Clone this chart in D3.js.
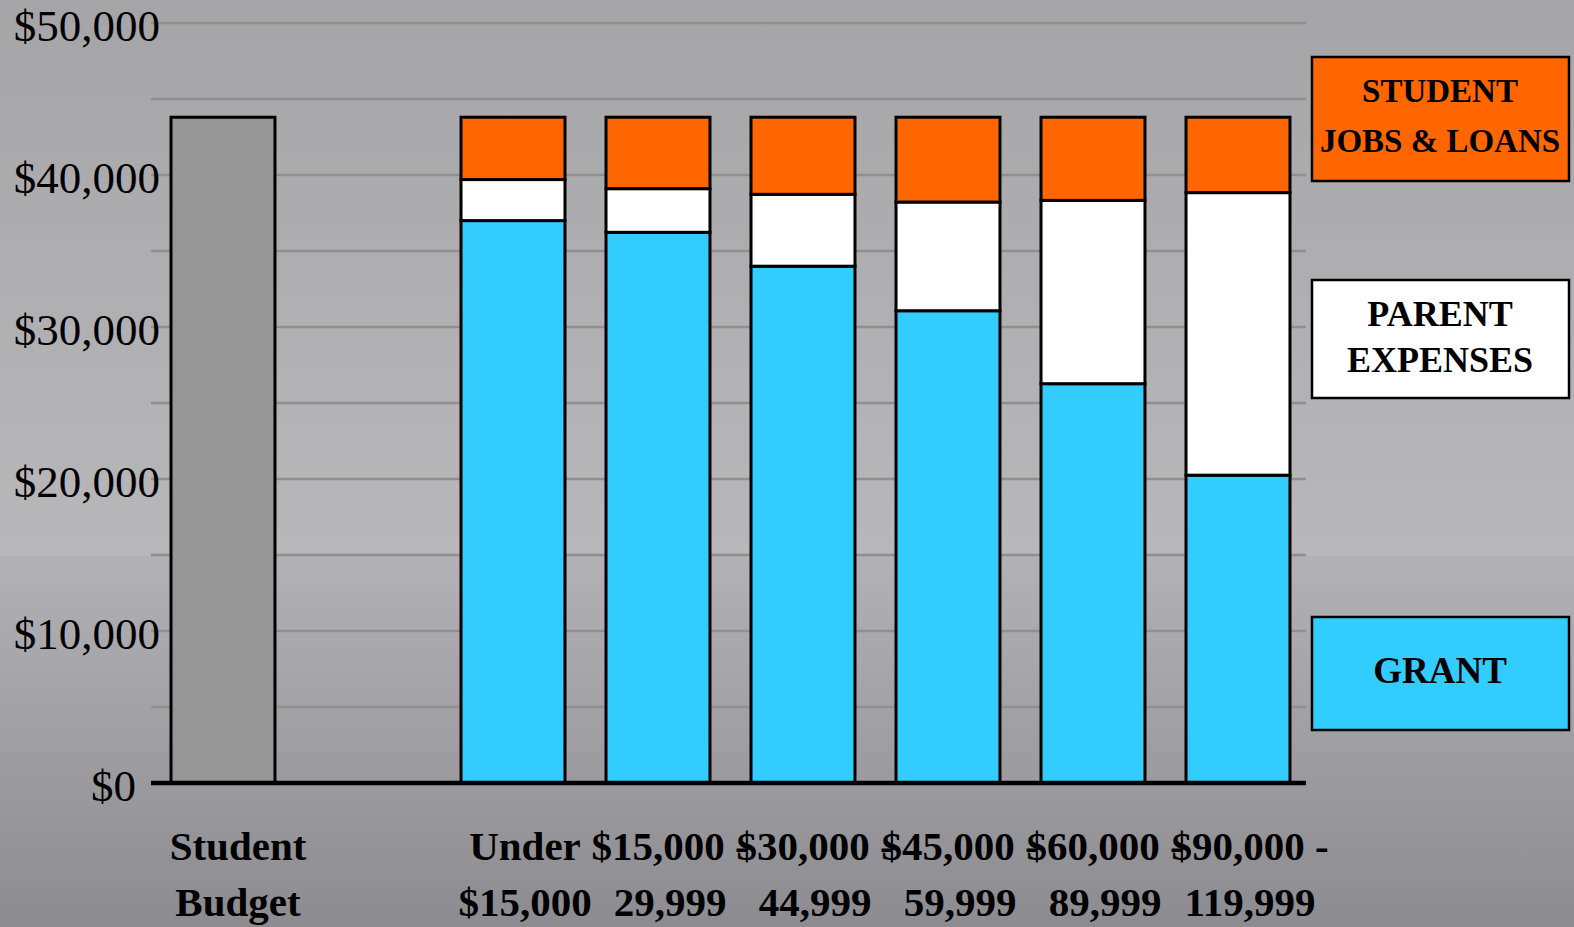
<!DOCTYPE html>
<html><head><meta charset="utf-8">
<script src="https://cdn.jsdelivr.net/npm/d3@7"></script>
<style>html,body{margin:0;padding:0;overflow:hidden;background:#a8a8aa}</style>
</head><body>
<svg id="chart" width="1574" height="927"></svg>
<script>
const categories = ["Student Budget", "", "Under $15,000", "$15,000 - 29,999", "$30,000 - 44,999", "$45,000 - 59,999", "$60,000 - 89,999", "$90,000 - 119,999"];
const labelLines = [["Student","Budget"],[],["Under","$15,000"],["$15,000 -","29,999"],["$30,000 -","44,999"],["$45,000 -","59,999"],["$60,000 -","89,999"],["$90,000 -","119,999"]];
const studentBudget = 43800;
const incomeCategories = categories.slice(2);
const grant = [37000, 36230, 34000, 31070, 26270, 20250];
const parentExpenses = [2700, 2870, 4730, 7150, 12060, 18590];
const jobsLoans = [4100, 4700, 5070, 5580, 5470, 4960];
const seriesNames = ["GRANT", "PARENT EXPENSES", "STUDENT JOBS & LOANS"];
const seriesColors = ["#33ccff", "#ffffff", "#ff6600"];
const yTicks = [0, 10000, 20000, 30000, 40000, 50000];
const gridTicks = [5000, 10000, 15000, 20000, 25000, 30000, 35000, 40000, 45000, 50000];

const svg = d3.select("#chart");
const W = 1574, H = 927;

// background
const defs = svg.append("defs");
const g1 = defs.append("linearGradient").attr("id","bgTop").attr("x1",0).attr("y1",0).attr("x2",0).attr("y2",1);
g1.append("stop").attr("offset","0").attr("stop-color","#a5a5a7");
g1.append("stop").attr("offset","1").attr("stop-color","#b8b8bb");
const g2 = defs.append("linearGradient").attr("id","bgBot").attr("x1",0).attr("y1",0).attr("x2",0).attr("y2",1);
g2.append("stop").attr("offset","0").attr("stop-color","#b2b2b6");
g2.append("stop").attr("offset","1").attr("stop-color","#8c8c90");
svg.append("rect").attr("x",0).attr("y",0).attr("width",W).attr("height",556).attr("fill","url(#bgTop)");
svg.append("rect").attr("x",0).attr("y",556).attr("width",W).attr("height",H-556).attr("fill","url(#bgBot)");

const y = d3.scaleLinear().domain([0, 50000]).range([783, 23]);
const x = d3.scaleBand().domain(categories).range([150.5, 1310.5]).paddingInner(0.283).paddingOuter(0.1415);

// gridlines
svg.append("g").selectAll("line").data(gridTicks).join("line")
  .attr("x1",151).attr("x2",1306)
  .attr("y1",d=>y(d)).attr("y2",d=>y(d))
  .attr("stroke","#8f8f90").attr("stroke-width",2.5);

// y labels
const yAxis = d3.axisLeft(y).tickValues(yTicks).tickSize(0).tickPadding(0)
  .tickFormat(d => "$" + d3.format(",")(d));
const ya = svg.append("g").attr("transform","translate(160,0)").call(yAxis);
ya.select(".domain").remove();
ya.selectAll("text").attr("font-family","'Liberation Serif', serif").attr("font-size",45)
  .attr("fill","#000").attr("dy","0.38em")
  .attr("x", d => d === 0 ? -24 : 0);

// student budget bar
svg.append("rect")
  .attr("x", x(categories[0])).attr("width", x.bandwidth())
  .attr("y", y(studentBudget)).attr("height", y(0) - y(studentBudget))
  .attr("fill","#969696").attr("stroke","#000").attr("stroke-width",3);

// stacked bars
const rows = incomeCategories.map((c,i)=>({cat:c, g:grant[i], p:parentExpenses[i], j:jobsLoans[i]}));
const stack = d3.stack().keys(["g","p","j"])(rows);
svg.append("g").selectAll("g").data(stack).join("g")
  .attr("fill",(d,i)=>seriesColors[i])
  .selectAll("rect").data(d=>d).join("rect")
  .attr("x", d=>x(d.data.cat)).attr("width", x.bandwidth())
  .attr("y", d=>y(d[1])).attr("height", d=>y(d[0]) - y(d[1]))
  .attr("stroke","#000").attr("stroke-width",3);

// baseline
svg.append("line").attr("x1",151).attr("x2",1306).attr("y1",y(0)).attr("y2",y(0))
  .attr("stroke","#000").attr("stroke-width",4.5);

// x labels
const xl = svg.append("g");
categories.forEach((c,i)=>{
  const lines = labelLines[i];
  if (!lines.length) return;
  const cx = x(c) + x.bandwidth()/2 + (i===0 ? 15 : 12);
  lines.forEach((t,k)=>{
    xl.append("text").attr("x",cx).attr("y",860 + k*56)
      .attr("text-anchor","middle")
      .attr("font-family","'Liberation Serif', serif").attr("font-weight","bold")
      .attr("font-size",41).attr("fill","#000").text(t);
  });
});

// legend
const legend = [
  {name:seriesNames[2], lines:["STUDENT","JOBS & LOANS"], color:seriesColors[2], y0:57, y1:181, fs:33, base:[102,152]},
  {name:seriesNames[1], lines:["PARENT","EXPENSES"], color:seriesColors[1], y0:280, y1:398, fs:36, base:[326,372]},
  {name:seriesNames[0], lines:["GRANT"], color:seriesColors[0], y0:617, y1:730, fs:37, base:[683]}
];
const lg = svg.append("g");
legend.forEach(L=>{
  lg.append("rect").attr("x",1312).attr("y",L.y0).attr("width",257).attr("height",L.y1-L.y0)
    .attr("fill",L.color).attr("stroke","#000").attr("stroke-width",2.5);
  L.lines.forEach((t,k)=>{
    lg.append("text").attr("x",1440).attr("y",L.base[k]).attr("text-anchor","middle")
      .attr("font-family","'Liberation Serif', serif").attr("font-weight","bold")
      .attr("font-size",L.fs).attr("fill","#000").text(t);
  });
});
</script>
</body></html>
